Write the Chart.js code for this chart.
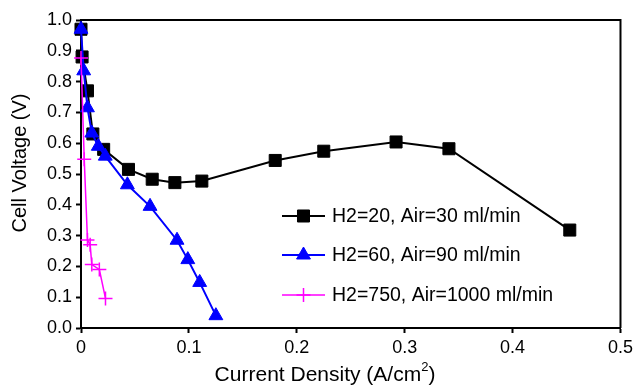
<!doctype html>
<html lang="en">
<head>
  <meta charset="UTF-8" />
  <script src="https://cdn.jsdelivr.net/npm/chart.js"></script>
  <style>
    html, body { margin: 0; padding: 0; background: #fff; }
    #wrap { width: 637px; height: 386px; }
  </style>
  <title>Cell Voltage vs Current Density</title>
</head>
<body>
  <div id="wrap"><canvas id="myChart" width="637" height="386"></canvas></div>

  <script>
    // series: current density (A/cm2) and cell voltage (V)
    const labels = ["H2=20, Air=30 ml/min", "H2=60, Air=90 ml/min", "H2=750, Air=1000 ml/min"];

    const x20 = [0.0, 0.001, 0.006, 0.011, 0.021, 0.044, 0.066, 0.087, 0.112, 0.180, 0.225, 0.292, 0.341, 0.453];
    const y20 = [0.97, 0.88, 0.77, 0.63, 0.58, 0.515, 0.483, 0.472, 0.477, 0.544, 0.574, 0.604, 0.582, 0.318];

    const x60 = [0.0, 0.0025, 0.006, 0.010, 0.016, 0.0225, 0.043, 0.064, 0.089, 0.099, 0.110, 0.125];
    const y60 = [0.97, 0.835, 0.715, 0.633, 0.59, 0.558, 0.465, 0.395, 0.285, 0.222, 0.148, 0.04];

    const x750 = [0.0, 0.003, 0.006, 0.0085, 0.010, 0.017, 0.0227];
    const y750 = [0.877, 0.548, 0.286, 0.27, 0.206, 0.19, 0.096];

    const xTicks = [0, 0.1, 0.2, 0.3, 0.4, 0.5];
    const yTicks = [0, 0.1, 0.2, 0.3, 0.4, 0.5, 0.6, 0.7, 0.8, 0.9, 1.0];

    const toPts = (xs, ys) => xs.map((x, i) => ({ x: x, y: ys[i] }));

    const font = "Liberation Sans, Arial, Helvetica, sans-serif";

    // box around the plot + custom legend + axis titles
    const extras = {
      id: "extras",
      afterDraw(chart) {
        const ctx = chart.ctx;
        const a = chart.chartArea;
        ctx.save();
        ctx.strokeStyle = "#000";
        ctx.lineWidth = 2;
        ctx.beginPath();
        ctx.moveTo(a.left, a.top);
        ctx.lineTo(a.right, a.top);
        ctx.lineTo(a.right, a.bottom);
        ctx.stroke();

        // legend
        const rowY = [216, 255, 295];
        chart.data.datasets.forEach((ds, i) => {
          const y = rowY[i];
          ctx.strokeStyle = ds.borderColor;
          ctx.lineWidth = ds.borderWidth;
          ctx.beginPath();
          ctx.moveTo(282, y);
          ctx.lineTo(325, y);
          ctx.stroke();
          ctx.fillStyle = ds.backgroundColor;
          ctx.strokeStyle = ds.borderColor;
          ctx.lineWidth = ds.pointBorderWidth;
          Chart.helpers.drawPoint(ctx, {
            pointStyle: ds.pointStyle,
            radius: ds.pointRadius,
            borderWidth: ds.pointBorderWidth,
            rotation: 0
          }, 303.5, y);
          ctx.fillStyle = "#000";
          ctx.font = "19.5px " + font;
          ctx.textBaseline = "middle";
          ctx.textAlign = "left";
          ctx.fillText(ds.label, 332, y + 1);
        });

        // x title with superscript
        ctx.fillStyle = "#000";
        ctx.textBaseline = "alphabetic";
        const t1 = "Current Density (A/cm";
        ctx.font = "21px " + font;
        const w1 = ctx.measureText(t1).width;
        ctx.font = "13px " + font;
        const w2 = ctx.measureText("2").width;
        ctx.font = "21px " + font;
        const w3 = ctx.measureText(")").width;
        let x0 = 325 - (w1 + w2 + w3) / 2;
        ctx.fillText(t1, x0, 381);
        ctx.font = "13px " + font;
        ctx.fillText("2", x0 + w1, 371);
        ctx.font = "21px " + font;
        ctx.fillText(")", x0 + w1 + w2, 381);

        // y title
        ctx.font = "20px " + font;
        ctx.translate(20, 163);
        ctx.rotate(-Math.PI / 2);
        ctx.textAlign = "center";
        ctx.textBaseline = "middle";
        ctx.fillText("Cell Voltage (V)", 0, 0);
        ctx.restore();
      }
    };

    const ctx = document.getElementById("myChart");

    new Chart(ctx, {
      type: "scatter",
      data: {
        datasets: [
          {
            label: labels[0],
            data: toPts(x20, y20),
            showLine: true,
            clip: false,
            borderColor: "#000000",
            backgroundColor: "#000000",
            borderWidth: 2,
            pointStyle: "rect",
            pointRadius: 8.5,
            pointHoverRadius: 8.5,
            pointBorderWidth: 1,
            order: 3
          },
          {
            label: labels[1],
            data: toPts(x60, y60),
            showLine: true,
            clip: false,
            borderColor: "#0000ff",
            backgroundColor: "#0000ff",
            borderWidth: 2,
            pointStyle: "triangle",
            pointRadius: 8,
            pointHoverRadius: 8,
            pointBorderWidth: 1,
            order: 2
          },
          {
            label: labels[2],
            data: toPts(x750, y750),
            showLine: true,
            clip: false,
            borderColor: "#ff00ff",
            backgroundColor: "#ff00ff",
            borderWidth: 1.5,
            pointStyle: "cross",
            pointRadius: 7,
            pointHoverRadius: 7,
            pointBorderWidth: 1.5,
            order: 1
          }
        ]
      },
      options: {
        responsive: false,
        animation: false,
        events: [],
        layout: { padding: { top: 20, right: 15, left: 0, bottom: 0 } },
        plugins: {
          legend: { display: false },
          tooltip: { enabled: false }
        },
        scales: {
          x: {
            type: "linear",
            min: 0,
            max: 0.5,
            afterFit: (s) => { s.height = 58; },
            afterBuildTicks: (s) => { s.ticks = xTicks.map((v) => ({ value: v })); },
            ticks: {
              color: "#000",
              padding: 4,
              font: { family: font, size: 18 },
              callback: (v) => (v === 0 ? "0" : Number(v).toFixed(1))
            },
            grid: { display: true, drawOnChartArea: false, drawTicks: true, tickLength: 5, tickColor: "#000", tickWidth: 2 },
            border: { display: true, color: "#000", width: 2 }
          },
          y: {
            type: "linear",
            min: 0,
            max: 1,
            afterFit: (s) => { s.width = 81; },
            afterBuildTicks: (s) => { s.ticks = yTicks.map((v) => ({ value: v })); },
            ticks: {
              color: "#000",
              padding: 4,
              font: { family: font, size: 18 },
              callback: (v) => Number(v).toFixed(1)
            },
            grid: { display: true, drawOnChartArea: false, drawTicks: true, tickLength: 5, tickColor: "#000", tickWidth: 2 },
            border: { display: true, color: "#000", width: 2 }
          }
        }
      },
      plugins: [extras]
    });
  </script>
</body>
</html>
